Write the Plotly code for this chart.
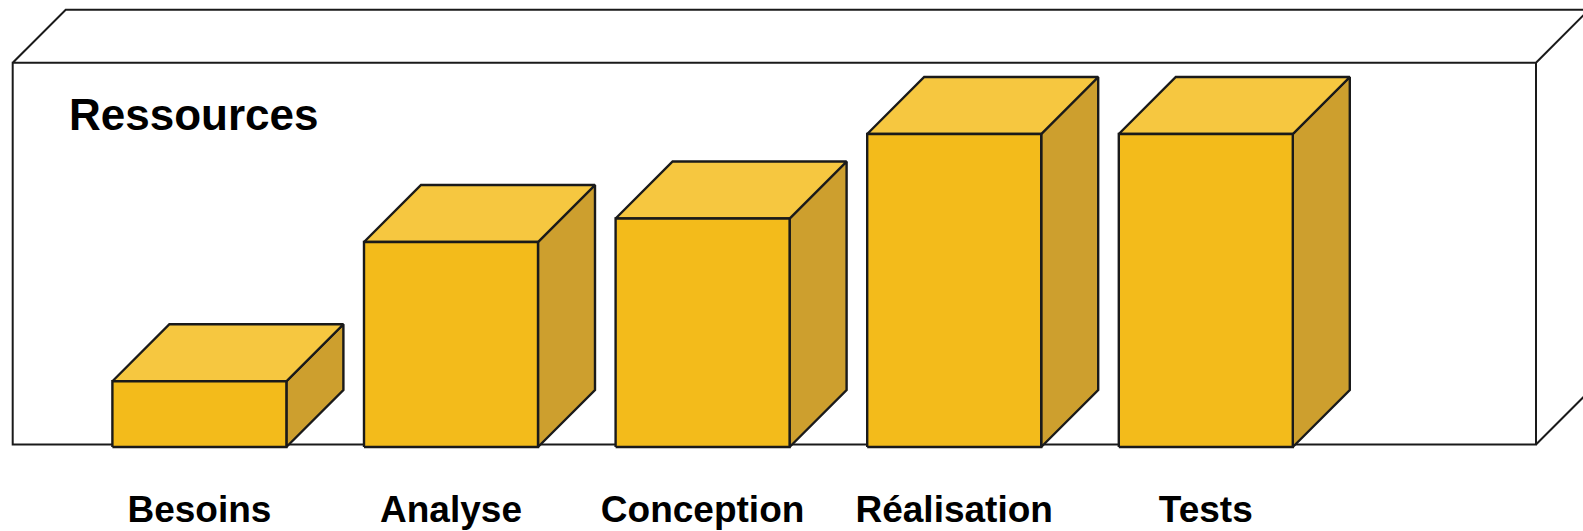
import plotly.graph_objects as go

# ---- data ----
categories = ["Besoins", "Analyse", "Conception", "Réalisation", "Tests"]
ressources = [21, 65.5, 73, 100, 100]
title_text = "Ressources"

# ---- style / geometry ----
W, H = 1583, 531
MB = 71                       # bottom margin (px)
PLOT_H = H - MB
X_PX0, X_PX_PER = 199.4, 251.6    # px of first category, px per category
Y_PX_BASE, Y_PX_PER = 447.0, 3.13  # px of value 0, px per unit
HALF_W = 87 / X_PX_PER
DEPTH_X = 57 / X_PX_PER
DEPTH_Y = 57 / Y_PX_PER

C_FRONT = "#F3BB1B"
C_TOP = "#F6C740"
C_SIDE = "#CD9F2E"
C_LINE = "#1a1a1a"
FONT = "Liberation Sans, Arial, sans-serif"

x_range = [-X_PX0 / X_PX_PER, (W - X_PX0) / X_PX_PER]
y_range = [-(PLOT_H - Y_PX_BASE) / Y_PX_PER, Y_PX_BASE / Y_PX_PER]

fig = go.Figure()


def face(xs, ys, color):
    fig.add_trace(go.Scatter(
        x=xs, y=ys, mode="lines", fill="toself", fillcolor=color,
        line=dict(color=C_LINE, width=2.4), hoverinfo="skip", showlegend=False))


for i, v in enumerate(ressources):
    l, r = i - HALF_W, i + HALF_W
    # side
    face([r, r + DEPTH_X, r + DEPTH_X, r, r], [0, DEPTH_Y, v + DEPTH_Y, v, 0], C_SIDE)
    # top
    face([l, r, r + DEPTH_X, l + DEPTH_X, l], [v, v, v + DEPTH_Y, v + DEPTH_Y, v], C_TOP)
    # front
    face([l, r, r, l, l], [0, 0, v, v, 0], C_FRONT)


# ---- 3D wall frame (decoration, in paper coords) ----
def px(xp):
    return xp / W


def py(yp):
    return (PLOT_H - yp) / PLOT_H


fl, fr, ft, fb, d = 12.7, 1536.0, 62.7, 444.5, 53.0
path = (
    f"M {px(fl)} {py(fb)} L {px(fr)} {py(fb)} L {px(fr)} {py(ft)} L {px(fl)} {py(ft)} Z "
    f"M {px(fl)} {py(ft)} L {px(fl + d)} {py(ft - d)} L {px(fr + d)} {py(ft - d)} "
    f"M {px(fr)} {py(ft)} L {px(fr + d)} {py(ft - d)} "
    f"M {px(fr)} {py(fb)} L {px(fr + d)} {py(fb - d)} "
    f"M {px(fr + d)} {py(ft - d)} L {px(fr + d)} {py(fb - d)}"
)
fig.add_shape(type="path", path=path, xref="paper", yref="paper",
              line=dict(color=C_LINE, width=2), layer="below")

fig.add_annotation(text="<b>" + title_text + "</b>", xref="paper", yref="paper",
                   x=px(67), y=py(114), xanchor="left", yanchor="middle",
                   showarrow=False, font=dict(family=FONT, size=44, color="#000000"))

fig.update_layout(
    width=W, height=H,
    margin=dict(l=0, r=0, t=0, b=MB, autoexpand=False),
    paper_bgcolor="white", plot_bgcolor="rgba(0,0,0,0)",
    xaxis=dict(range=x_range, tickvals=list(range(len(categories))),
               ticktext=["<b>" + c + "</b>" for c in categories],
               tickfont=dict(family=FONT, size=37, color="#000000"),
               showgrid=False, zeroline=False, showline=False, ticks="",
               ticklabelstandoff=24, automargin=False, fixedrange=True),
    yaxis=dict(range=y_range, showgrid=False, zeroline=False, showline=False,
               showticklabels=False, ticks="", automargin=False, fixedrange=True),
    showlegend=False,
)

fig.write_html("out.html")
